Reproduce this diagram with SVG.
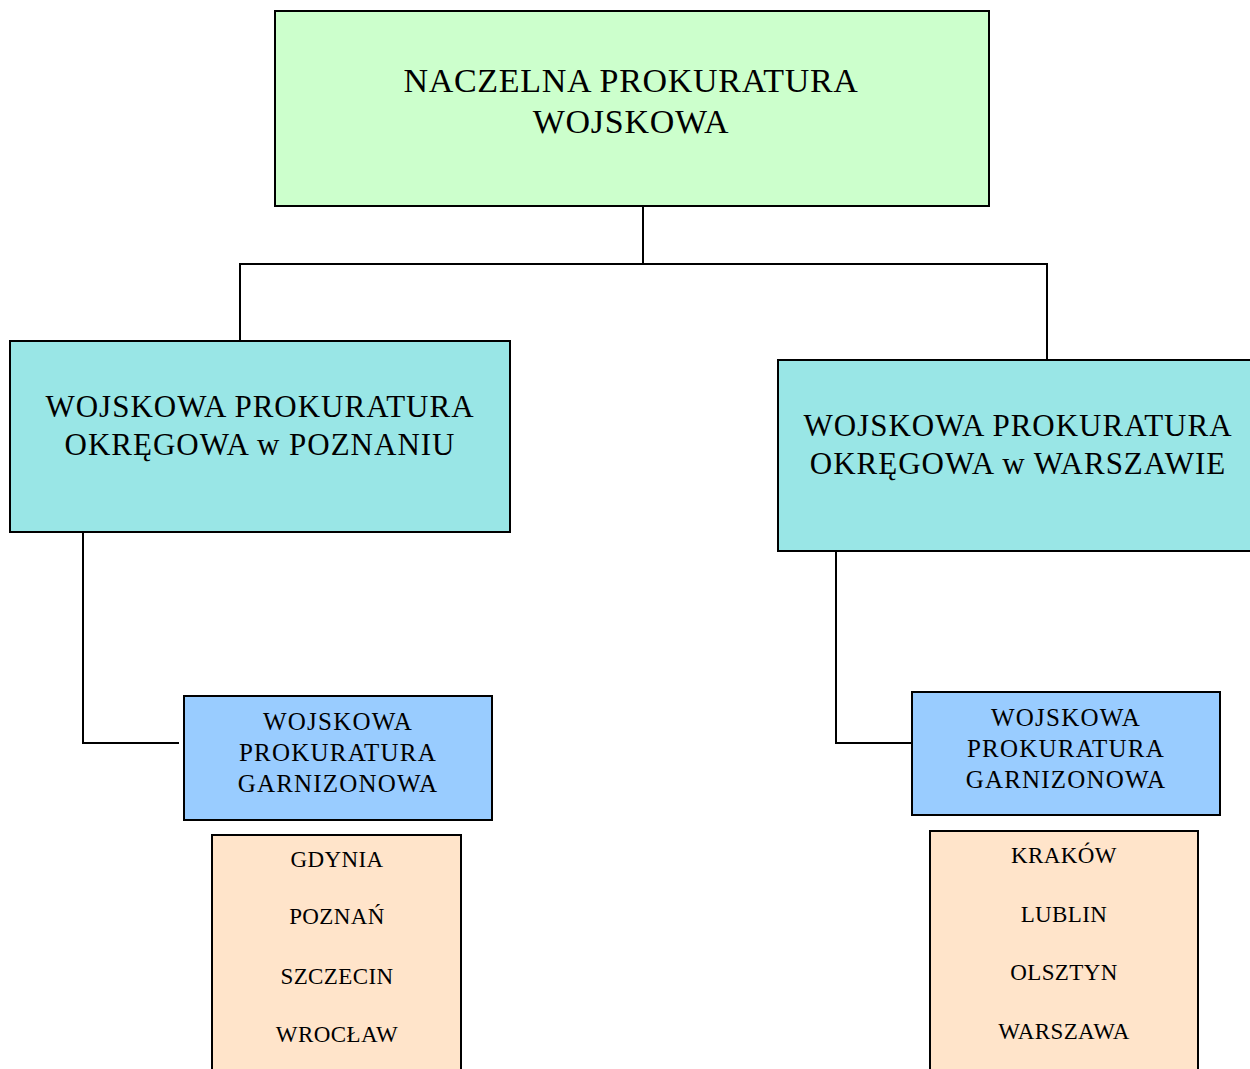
<svg xmlns="http://www.w3.org/2000/svg" width="1250" height="1069" viewBox="0 0 1250 1069">
<style>
  .box { stroke: #000; stroke-width: 2; }
  .top { fill: #CCFFCC; }
  .okr { fill: #99E6E6; }
  .gar { fill: #99CCFF; }
  .city { fill: #FFE4CA; }
  text { font-family: "Liberation Serif", "Times New Roman", serif; fill: #000; text-anchor: middle; }
  .t1 { font-size: 34px; letter-spacing: 0.7px; }
  .t2 { font-size: 31px; letter-spacing: 1px; }
  .t3 { font-size: 25px; letter-spacing: 1.2px; }
  .t4 { font-size: 23px; letter-spacing: 0.4px; }
  #connectors path { fill: none; stroke: #000; stroke-width: 2; }
</style>
<rect x="0" y="0" width="1250" height="1069" fill="#fff"/>
<g id="connectors">
  <path d="M643 206 V264 M240 341 V264 H1047 V360"/>
  <path d="M83 532 V743 H179"/>
  <path d="M836 551 V743 H912"/>
</g>
<g id="naczelna">
  <rect class="box top" x="275" y="11" width="714" height="195"/>
  <text class="t1" x="631" y="92">NACZELNA PROKURATURA</text>
  <text class="t1" x="631" y="133">WOJSKOWA</text>
</g>
<g id="okregowa-poznan">
  <rect class="box okr" x="10" y="341" width="500" height="191"/>
  <text class="t2" x="260" y="417">WOJSKOWA PROKURATURA</text>
  <text class="t2" x="260" y="455">OKRĘGOWA w POZNANIU</text>
</g>
<g id="okregowa-warszawa">
  <rect class="box okr" x="778" y="360" width="500" height="191"/>
  <text class="t2" x="1018" y="436">WOJSKOWA PROKURATURA</text>
  <text class="t2" x="1018" y="474">OKRĘGOWA w WARSZAWIE</text>
</g>
<g id="garnizonowa-left">
  <rect class="box gar" x="184" y="696" width="308" height="124"/>
  <text class="t3" x="338" y="730">WOJSKOWA</text>
  <text class="t3" x="338" y="761">PROKURATURA</text>
  <text class="t3" x="338" y="792">GARNIZONOWA</text>
</g>
<g id="garnizonowa-right">
  <rect class="box gar" x="912" y="692" width="308" height="123"/>
  <text class="t3" x="1066" y="726">WOJSKOWA</text>
  <text class="t3" x="1066" y="757">PROKURATURA</text>
  <text class="t3" x="1066" y="788">GARNIZONOWA</text>
</g>
<g id="miasta-left">
  <rect class="box city" x="212" y="835" width="249" height="250"/>
  <text class="t4" x="337" y="867">GDYNIA</text>
  <text class="t4" x="337" y="924">POZNAŃ</text>
  <text class="t4" x="337" y="984">SZCZECIN</text>
  <text class="t4" x="337" y="1042">WROCŁAW</text>
</g>
<g id="miasta-right">
  <rect class="box city" x="930" y="831" width="268" height="250"/>
  <text class="t4" x="1064" y="863">KRAKÓW</text>
  <text class="t4" x="1064" y="922">LUBLIN</text>
  <text class="t4" x="1064" y="980">OLSZTYN</text>
  <text class="t4" x="1064" y="1039">WARSZAWA</text>
</g>
</svg>
